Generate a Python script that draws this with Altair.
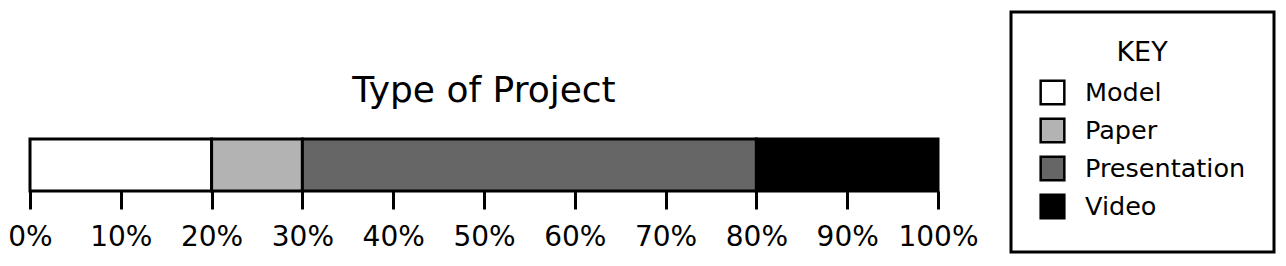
import altair as alt
import pandas as pd

categories = ["Model", "Paper", "Presentation", "Video"]
shares = [0.20, 0.10, 0.50, 0.20]
colors = ["#ffffff", "#b3b3b3", "#666666", "#000000"]
tick_values = [0, 0.1, 0.2, 0.3, 0.4, 0.5, 0.6, 0.7, 0.8, 0.9, 1.0]

df = pd.DataFrame({
    "group": ["Type of Project"] * len(categories),
    "type": categories,
    "share": shares,
    "order": list(range(len(categories))),
})

FONT = "DejaVu Sans"

chart = alt.Chart(df).mark_bar(stroke="black", strokeWidth=3).encode(
    x=alt.X("share:Q", stack="zero",
            scale=alt.Scale(domain=[0, 1], nice=False),
            axis=alt.Axis(values=tick_values, format=".0%", title=None, grid=False,
                          domain=False, tickColor="black", tickWidth=3, tickSize=18,
                          labelFont=FONT, labelFontSize=28, labelColor="black",
                          labelPadding=14, labelOverlap=False, labelFlush=False)),
    y=alt.Y("group:N", axis=None, scale=alt.Scale(paddingInner=0, paddingOuter=0)),
    color=alt.Color("type:N",
                    scale=alt.Scale(domain=categories, range=colors),
                    legend=alt.Legend(title="KEY", orient="none", legendX=981, legendY=-127,
                                      titleAnchor="middle", titleFont=FONT, titleFontSize=27,
                                      titleFontWeight="normal", titleColor="black",
                                      titlePadding=12,
                                      labelFont=FONT, labelFontSize=25.5, labelColor="black",
                                      labelOffset=19, labelLimit=400,
                                      symbolType="square", symbolSize=560,
                                      symbolStrokeColor="black", symbolStrokeWidth=2.5,
                                      rowPadding=3,
                                      strokeColor="black", fillColor="white",
                                      padding=28)),
    order=alt.Order("order:Q"),
).properties(
    width=908,
    height=52,
    title=alt.TitleParams("Type of Project", font=FONT, fontSize=36, fontWeight="normal",
                          color="black", anchor="middle", offset=-99, frame="group"),
    autosize=alt.AutoSizeParams(type="none"),
    padding={"left": 30, "top": 139, "right": 348, "bottom": 75},
).configure_view(stroke=None).configure_legend(strokeWidth=3)

chart.save("out.html", embed_options={"renderer": "svg", "actions": False})
